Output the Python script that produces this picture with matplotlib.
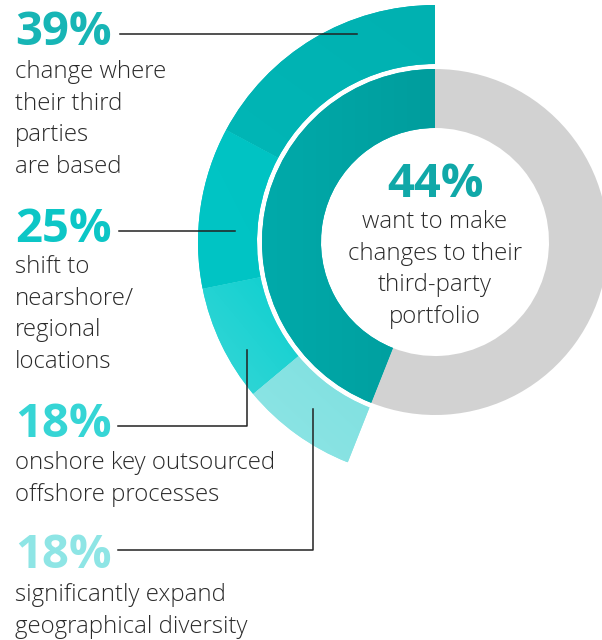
import matplotlib
matplotlib.use("Agg")
import matplotlib.pyplot as plt
import numpy as np
from matplotlib.colors import LinearSegmentedColormap

# Share of respondents wanting to change their third-party portfolio
portfolio_share = 44
portfolio_text = ["want to make", "changes to their", "third-party", "portfolio"]

# Breakdown of the planned changes (percent of those 44%)
change_values = [39, 25, 18, 18]
change_texts = [
    ["change where", "their third", "parties", "are based"],
    ["shift to", "nearshore/", "regional", "locations"],
    ["onshore key outsourced", "offshore processes"],
    ["significantly expand", "geographical diversity"],
]

# Colours (start/end of a soft diagonal shading per segment)
teal_inner = ("#00AAAA", "#009D9D")
grey_rest = "#D2D2D2"
ring_colors = [("#00B6B6", "#00B1B1"), ("#00C5C5", "#00C3C3"),
               ("#38D7D7", "#0CCFCF"), ("#8FE5E5", "#7EE0E0")]
label_colors = ["#17B5B5", "#0CC6C6", "#36D5D5", "#8EE5E5"]
text_color = "#2A2A2A"
line_color = "#222222"

W, H = 602, 640
fig = plt.figure(figsize=(W / 100, H / 100), dpi=100)
ax = fig.add_axes([0, 0, 1, 1])

cx, cy = 435, H - 242


def shade(wedge, c0, c1, direction=(1.0, -1.0)):
    """Fill a wedge with a linear gradient from c0 to c1."""
    bb = wedge.get_path().get_extents()
    xs = np.linspace(0, 1, 64)
    ys = np.linspace(0, 1, 64)
    gx, gy = np.meshgrid(xs, ys)
    dx, dy = direction
    t = gx * dx + (1 - gy) * (-dy) if dy < 0 else gx * dx + gy * dy
    t = (t - t.min()) / (t.max() - t.min() + 1e-9)
    cmap = LinearSegmentedColormap.from_list("g", [c0, c1])
    im = ax.imshow(t, cmap=cmap, extent=(bb.x0, bb.x1, bb.y0, bb.y1),
                   origin="upper", interpolation="bilinear", zorder=2)
    im.set_clip_path(wedge)


# Inner donut: share vs. remainder
inner, _ = ax.pie([portfolio_share, 100 - portfolio_share], radius=173,
                  center=(cx, cy), startangle=90, counterclock=True,
                  colors=[teal_inner[0], grey_rest],
                  wedgeprops=dict(width=173 - 114, linewidth=0))
shade(inner[0], teal_inner[0], teal_inner[1], direction=(1.0, 0.0))

# Outer ring: breakdown spread over the share's arc
outer_vals = [portfolio_share * v / sum(change_values) for v in change_values]
outer_vals.append(100 - portfolio_share)
outer, _ = ax.pie(outer_vals, radius=237, center=(cx, cy), startangle=90,
                  counterclock=True,
                  colors=[c[0] for c in ring_colors] + ["none"],
                  wedgeprops=dict(width=237 - 178, linewidth=0))
for w, (c0, c1) in zip(outer, ring_colors):
    shade(w, c0, c1)

ax.set_xlim(0, W)
ax.set_ylim(0, H)
ax.set_aspect("equal")
ax.axis("off")

FONT = "Open Sans"
BIG = 34
BODY = 17.3
STEP = 31.7


def y(px):
    return H - px


def block(x, pct_base, pct, color, lines, first_base, ha="left"):
    ax.text(x, y(pct_base), f"{pct}%", fontsize=BIG, fontweight="bold",
            color=color, family=FONT, ha=ha, va="baseline", zorder=5)
    for i, line in enumerate(lines):
        ax.text(x, y(first_base + i * STEP), line, fontsize=BODY,
                fontweight="light", color=text_color, family=FONT,
                ha=ha, va="baseline", zorder=5)


# Left-hand labels
pct_bases = [45, 242, 437, 568]
body_bases = [78, 273, 469, 601]
for val, col, lines, pb, bb in zip(change_values, label_colors, change_texts,
                                   pct_bases, body_bases):
    block(15, pb, val, col, lines, bb)

# Centre label
block(435, 197, portfolio_share, "#10A8A8", portfolio_text, 228, ha="center")

# Leader lines
lw = 1.1
kw = dict(color=line_color, lw=lw, zorder=4)
ax.plot([120, 357], [y(34), y(34)], **kw)
ax.plot([119, 235], [y(231), y(231)], **kw)
ax.plot([118, 247, 247], [y(426), y(426), y(350)], **kw)
ax.plot([118, 313, 313], [y(550), y(550), y(409)], **kw)

fig.savefig("out.png", dpi=100, facecolor="white")
